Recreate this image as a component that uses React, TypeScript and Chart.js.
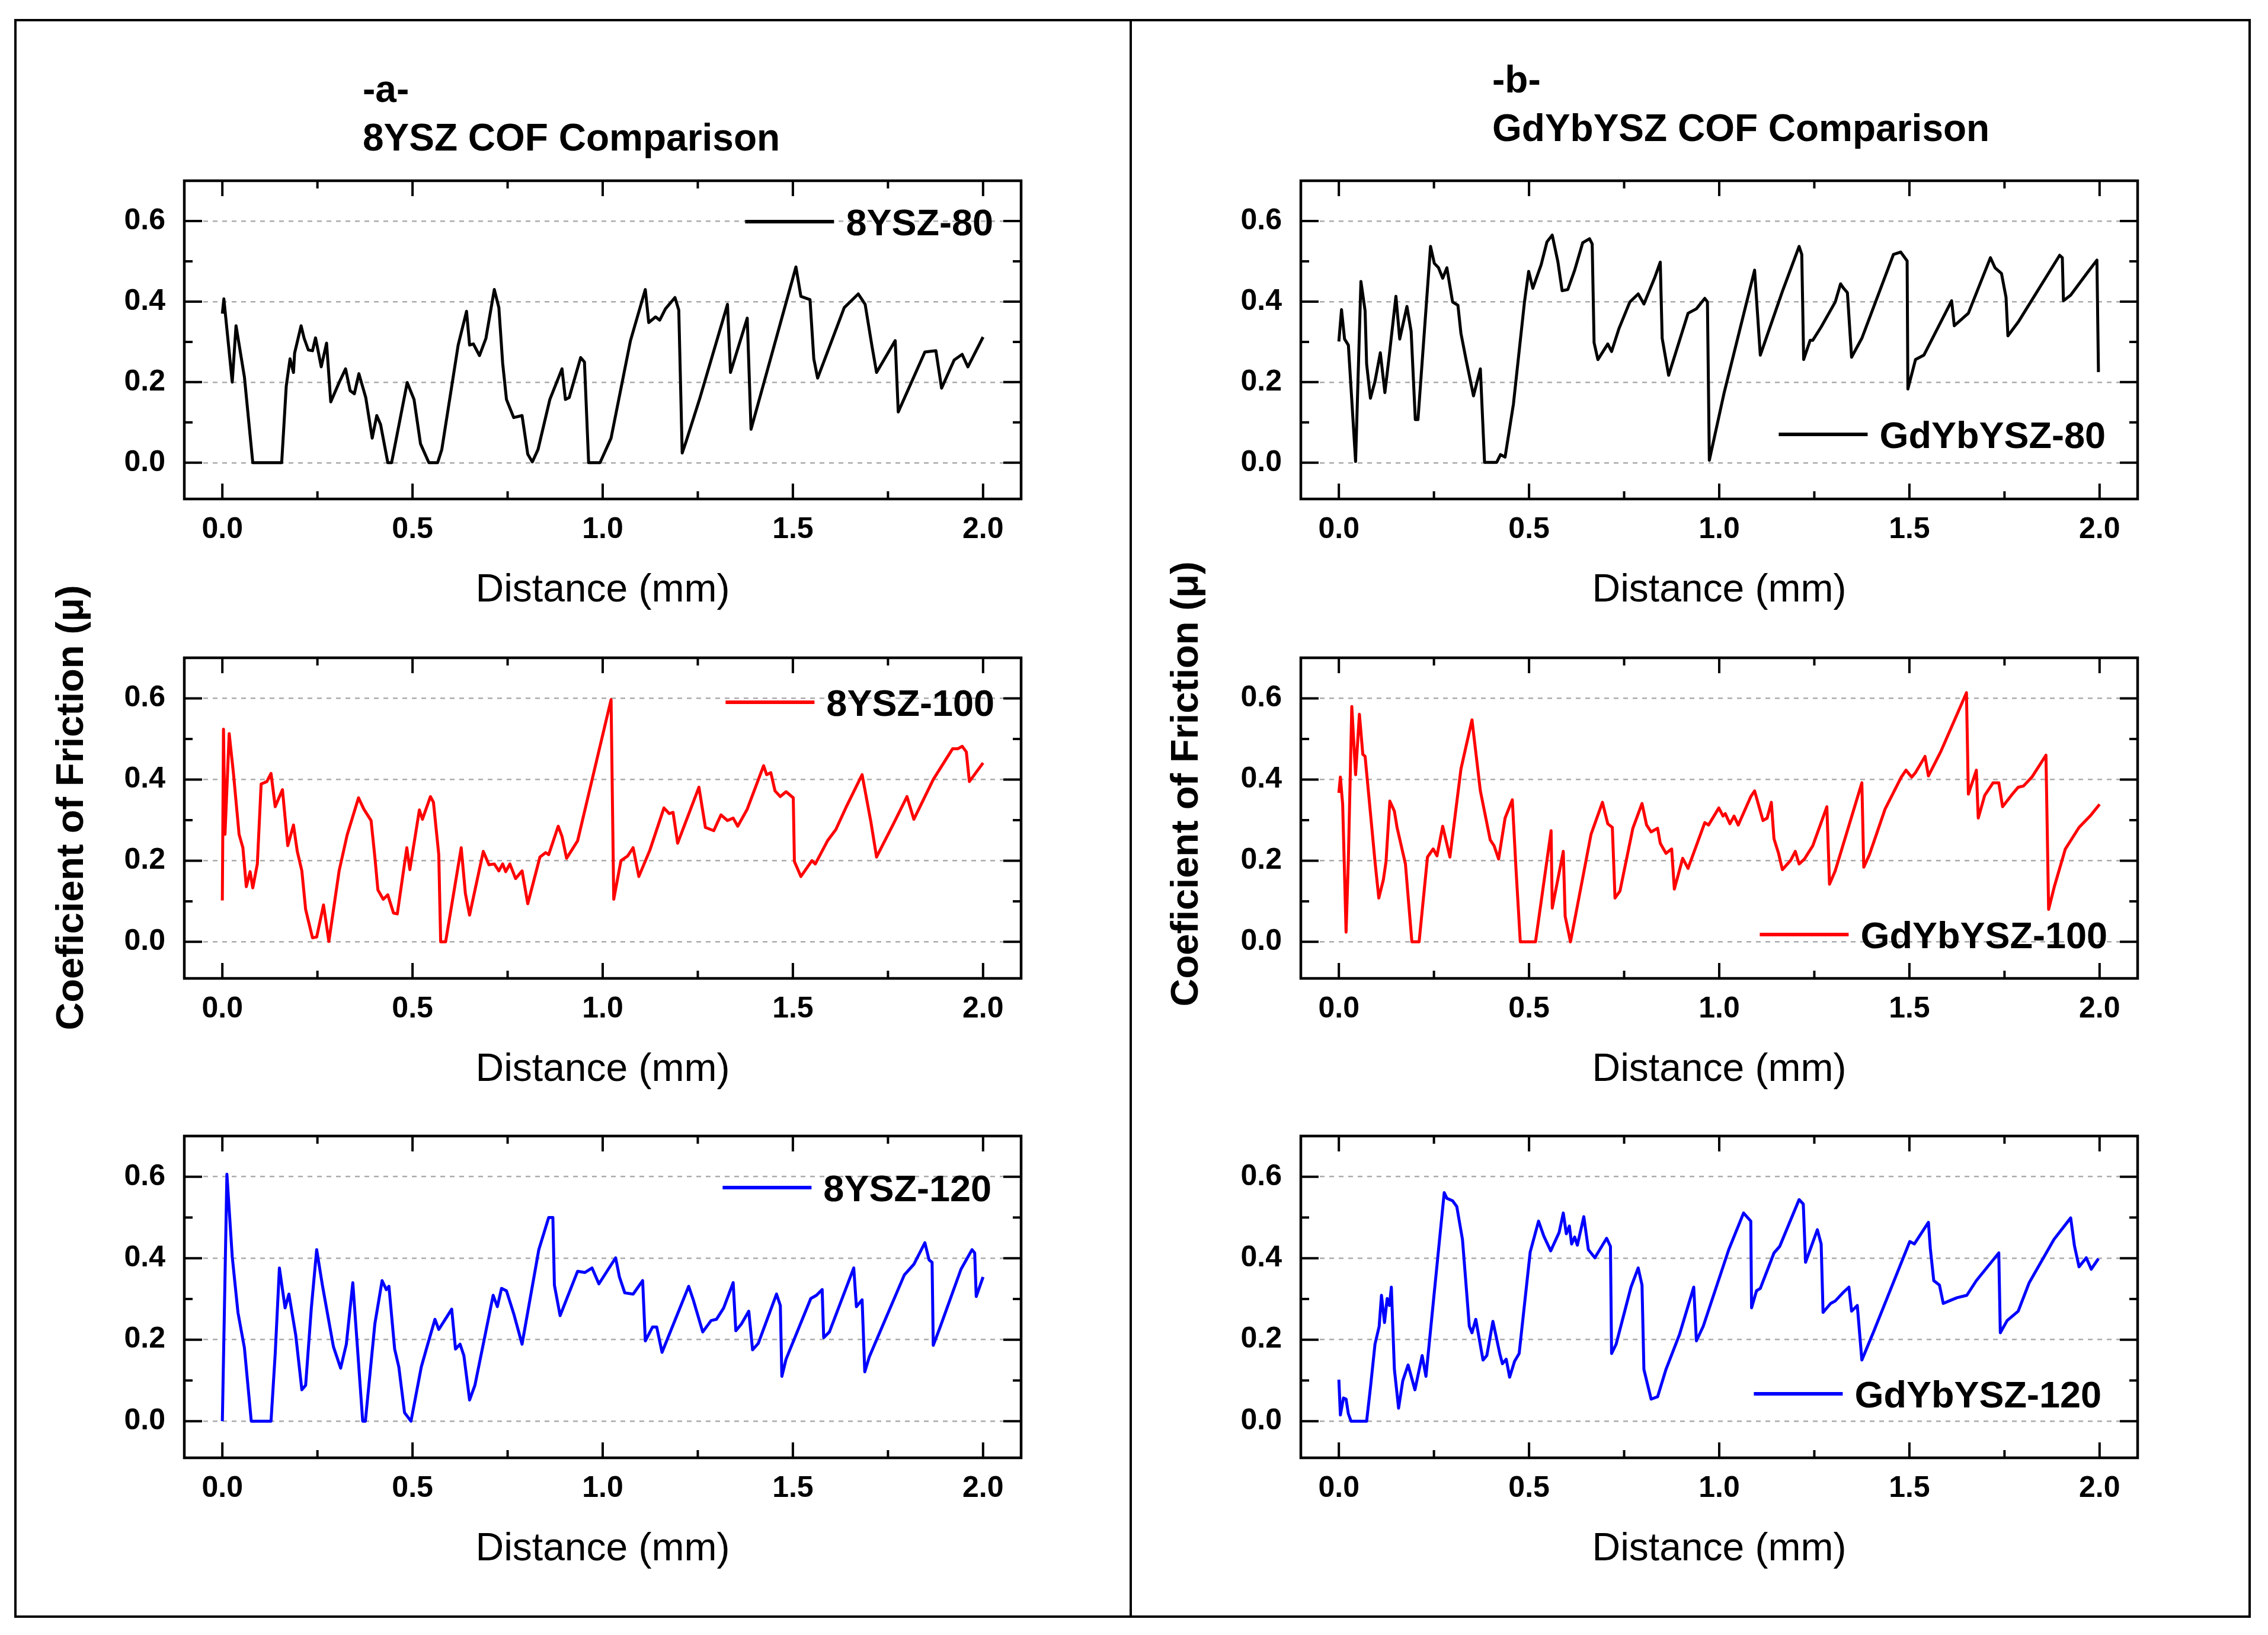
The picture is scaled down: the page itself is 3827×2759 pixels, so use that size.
import React, { useEffect, useRef } from 'react';
import { Chart, registerables } from 'chart.js';

Chart.register(...registerables);

// distance (mm), coefficient of friction
const ysz80: [number, number][] = [
  [0, 0.37], [0.004, 0.407], [0.026, 0.2], [0.036, 0.34], [0.058, 0.213], [0.08, 0], [0.156, 0], [0.168, 0.19],
  [0.178, 0.258], [0.187, 0.224], [0.19, 0.272], [0.207, 0.34], [0.215, 0.309], [0.226, 0.28], [0.237, 0.278],
  [0.245, 0.31], [0.26, 0.238], [0.274, 0.297], [0.285, 0.151], [0.307, 0.199], [0.324, 0.233], [0.336, 0.179],
  [0.347, 0.171], [0.359, 0.221], [0.377, 0.162], [0.394, 0.061], [0.406, 0.117], [0.416, 0.095], [0.435, 0],
  [0.445, 0], [0.486, 0.199], [0.504, 0.157], [0.521, 0.047], [0.543, 0], [0.566, 0], [0.577, 0.033], [0.62, 0.292],
  [0.642, 0.376], [0.65, 0.292], [0.66, 0.295], [0.676, 0.266], [0.693, 0.309], [0.715, 0.43], [0.727, 0.385],
  [0.737, 0.247], [0.747, 0.157], [0.766, 0.112], [0.788, 0.117], [0.803, 0.021], [0.815, 0.002], [0.83, 0.033],
  [0.861, 0.157], [0.893, 0.233], [0.902, 0.157], [0.912, 0.162], [0.942, 0.261], [0.952, 0.25], [0.963, 0],
  [0.993, 0], [1.022, 0.061], [1.073, 0.303], [1.112, 0.43], [1.121, 0.348], [1.139, 0.362], [1.15, 0.354],
  [1.165, 0.382], [1.19, 0.41], [1.2, 0.379], [1.209, 0.024], [1.219, 0.052], [1.255, 0.159], [1.328, 0.393],
  [1.336, 0.224], [1.38, 0.359], [1.39, 0.083], [1.508, 0.486], [1.521, 0.413], [1.545, 0.405], [1.555, 0.258],
  [1.565, 0.21], [1.635, 0.385], [1.672, 0.419], [1.69, 0.393], [1.708, 0.289], [1.72, 0.224], [1.769, 0.303],
  [1.777, 0.126], [1.847, 0.275], [1.876, 0.278], [1.891, 0.185], [1.924, 0.255], [1.945, 0.269], [1.96, 0.238],
  [2.0, 0.312],
];

const ysz100: [number, number][] = [
  [0, 0.102], [0.003, 0.524], [0.007, 0.265], [0.018, 0.513], [0.029, 0.417], [0.044, 0.265], [0.054, 0.232],
  [0.063, 0.136], [0.073, 0.173], [0.08, 0.133], [0.092, 0.192], [0.102, 0.389], [0.117, 0.395], [0.128, 0.415],
  [0.139, 0.333], [0.158, 0.375], [0.172, 0.237], [0.187, 0.288], [0.197, 0.223], [0.209, 0.175], [0.219, 0.08],
  [0.237, 0.01], [0.248, 0.012], [0.266, 0.091], [0.28, 0.001], [0.307, 0.175], [0.328, 0.263], [0.358, 0.355],
  [0.372, 0.327], [0.391, 0.299], [0.401, 0.209], [0.409, 0.128], [0.423, 0.105], [0.435, 0.116], [0.45, 0.071],
  [0.46, 0.069], [0.485, 0.232], [0.493, 0.178], [0.518, 0.325], [0.526, 0.302], [0.547, 0.358], [0.555, 0.344],
  [0.569, 0.215], [0.574, 0], [0.587, 0], [0.628, 0.232], [0.639, 0.119], [0.65, 0.066], [0.686, 0.223],
  [0.701, 0.19], [0.715, 0.192], [0.727, 0.175], [0.737, 0.192], [0.745, 0.173], [0.756, 0.192], [0.771, 0.156],
  [0.788, 0.175], [0.803, 0.094], [0.835, 0.209], [0.85, 0.22], [0.858, 0.215], [0.883, 0.285], [0.893, 0.26],
  [0.905, 0.206], [0.934, 0.249], [1.022, 0.597], [1.029, 0.105], [1.048, 0.2], [1.066, 0.212], [1.08, 0.232],
  [1.095, 0.161], [1.124, 0.226], [1.161, 0.33], [1.175, 0.316], [1.185, 0.319], [1.197, 0.243], [1.253, 0.381],
  [1.27, 0.282], [1.292, 0.274], [1.311, 0.313], [1.328, 0.299], [1.343, 0.305], [1.355, 0.285], [1.38, 0.327],
  [1.423, 0.434], [1.431, 0.412], [1.442, 0.417], [1.453, 0.372], [1.467, 0.358], [1.482, 0.37], [1.501, 0.355],
  [1.504, 0.198], [1.521, 0.161], [1.55, 0.2], [1.559, 0.192], [1.591, 0.249], [1.613, 0.277], [1.642, 0.336],
  [1.682, 0.412], [1.705, 0.296], [1.72, 0.209], [1.766, 0.294], [1.8, 0.358], [1.818, 0.302], [1.869, 0.4],
  [1.92, 0.476], [1.934, 0.476], [1.945, 0.482], [1.956, 0.468], [1.964, 0.395], [2.0, 0.441],
];

const ysz120: [number, number][] = [
  [0, 0], [0.012, 0.606], [0.026, 0.404], [0.041, 0.267], [0.058, 0.18], [0.076, 0], [0.128, 0], [0.139, 0.166],
  [0.15, 0.376], [0.165, 0.278], [0.175, 0.312], [0.193, 0.211], [0.209, 0.077], [0.219, 0.088], [0.234, 0.278],
  [0.248, 0.421], [0.263, 0.334], [0.277, 0.261], [0.292, 0.183], [0.311, 0.13], [0.326, 0.189], [0.343, 0.34],
  [0.355, 0.183], [0.369, 0], [0.376, 0], [0.401, 0.239], [0.42, 0.345], [0.431, 0.323], [0.438, 0.331],
  [0.453, 0.177], [0.464, 0.133], [0.479, 0.021], [0.496, 0], [0.523, 0.133], [0.54, 0.189], [0.559, 0.25],
  [0.569, 0.225], [0.584, 0.247], [0.603, 0.275], [0.613, 0.177], [0.625, 0.189], [0.635, 0.161], [0.65, 0.052],
  [0.664, 0.088], [0.712, 0.309], [0.723, 0.281], [0.734, 0.326], [0.747, 0.32], [0.766, 0.264], [0.788, 0.189],
  [0.832, 0.421], [0.858, 0.5], [0.869, 0.5], [0.873, 0.334], [0.888, 0.259], [0.934, 0.368], [0.953, 0.365],
  [0.972, 0.376], [0.99, 0.337], [1.034, 0.401], [1.044, 0.354], [1.058, 0.315], [1.08, 0.312], [1.105, 0.345],
  [1.112, 0.197], [1.131, 0.231], [1.142, 0.231], [1.156, 0.169], [1.226, 0.331], [1.238, 0.298], [1.263, 0.219],
  [1.285, 0.247], [1.299, 0.25], [1.318, 0.278], [1.343, 0.34], [1.35, 0.222], [1.365, 0.239], [1.384, 0.27],
  [1.394, 0.175], [1.409, 0.191], [1.457, 0.312], [1.467, 0.284], [1.471, 0.11], [1.482, 0.152], [1.547, 0.301],
  [1.562, 0.309], [1.577, 0.323], [1.581, 0.205], [1.596, 0.219], [1.66, 0.376], [1.667, 0.281], [1.682, 0.298],
  [1.689, 0.121], [1.701, 0.158], [1.793, 0.359], [1.818, 0.385], [1.847, 0.438], [1.858, 0.396], [1.866, 0.39],
  [1.869, 0.186], [1.888, 0.233], [1.942, 0.373], [1.971, 0.421], [1.978, 0.413], [1.982, 0.306], [2.0, 0.354],
];

const gdyb80: [number, number][] = [
  [0, 0.301], [0.007, 0.38], [0.015, 0.307], [0.025, 0.292], [0.044, 0.003], [0.058, 0.45], [0.069, 0.377],
  [0.073, 0.245], [0.083, 0.16], [0.095, 0.202], [0.109, 0.273], [0.121, 0.174], [0.133, 0.27], [0.15, 0.413],
  [0.16, 0.307], [0.179, 0.388], [0.19, 0.326], [0.201, 0.107], [0.208, 0.107], [0.241, 0.537], [0.251, 0.495],
  [0.262, 0.484], [0.273, 0.458], [0.284, 0.484], [0.299, 0.399], [0.313, 0.391], [0.321, 0.321], [0.335, 0.253],
  [0.354, 0.166], [0.372, 0.233], [0.383, 0.001], [0.415, 0.001], [0.425, 0.02], [0.437, 0.014], [0.459, 0.146],
  [0.488, 0.399], [0.499, 0.475], [0.51, 0.433], [0.532, 0.492], [0.547, 0.548], [0.561, 0.565], [0.576, 0.498],
  [0.587, 0.427], [0.602, 0.43], [0.62, 0.478], [0.641, 0.546], [0.659, 0.556], [0.666, 0.543], [0.671, 0.298],
  [0.681, 0.256], [0.707, 0.295], [0.717, 0.276], [0.736, 0.332], [0.765, 0.399], [0.787, 0.419], [0.802, 0.394],
  [0.831, 0.461], [0.845, 0.498], [0.85, 0.309], [0.867, 0.217], [0.918, 0.371], [0.94, 0.382], [0.962, 0.408],
  [0.969, 0.399], [0.974, 0.006], [1.013, 0.174], [1.093, 0.478], [1.108, 0.267], [1.166, 0.425], [1.21, 0.537],
  [1.217, 0.517], [1.222, 0.256], [1.239, 0.304], [1.246, 0.304], [1.268, 0.337], [1.305, 0.399], [1.319, 0.444],
  [1.327, 0.433], [1.337, 0.422], [1.348, 0.262], [1.375, 0.309], [1.458, 0.517], [1.477, 0.523], [1.494, 0.501],
  [1.496, 0.183], [1.516, 0.256], [1.538, 0.267], [1.611, 0.402], [1.618, 0.34], [1.655, 0.371], [1.713, 0.509],
  [1.725, 0.484], [1.742, 0.47], [1.754, 0.411], [1.759, 0.315], [1.786, 0.349], [1.895, 0.515], [1.902, 0.509],
  [1.905, 0.402], [1.924, 0.416], [1.968, 0.472], [1.993, 0.503], [1.997, 0.225],
];

const gdyb100: [number, number][] = [
  [0, 0.367], [0.004, 0.406], [0.01, 0.339], [0.019, 0.024], [0.025, 0.204], [0.034, 0.58], [0.044, 0.412],
  [0.054, 0.561], [0.063, 0.462], [0.069, 0.457], [0.095, 0.198], [0.105, 0.108], [0.117, 0.153], [0.124, 0.198],
  [0.134, 0.347], [0.146, 0.322], [0.153, 0.282], [0.175, 0.192], [0.192, 0], [0.211, 0], [0.233, 0.209],
  [0.248, 0.229], [0.258, 0.212], [0.273, 0.285], [0.292, 0.209], [0.321, 0.426], [0.35, 0.547], [0.372, 0.372],
  [0.398, 0.251], [0.408, 0.237], [0.42, 0.204], [0.437, 0.305], [0.456, 0.35], [0.466, 0.175], [0.477, 0],
  [0.517, 0], [0.558, 0.274], [0.561, 0.083], [0.59, 0.223], [0.595, 0.063], [0.609, 0], [0.663, 0.265],
  [0.693, 0.344], [0.707, 0.291], [0.719, 0.282], [0.726, 0.108], [0.739, 0.125], [0.773, 0.28], [0.797, 0.341],
  [0.809, 0.288], [0.821, 0.271], [0.838, 0.28], [0.845, 0.243], [0.86, 0.218], [0.875, 0.229], [0.882, 0.13],
  [0.904, 0.206], [0.918, 0.181], [0.962, 0.294], [0.972, 0.288], [0.999, 0.33], [1.01, 0.31], [1.016, 0.316],
  [1.028, 0.291], [1.039, 0.31], [1.05, 0.288], [1.083, 0.358], [1.093, 0.372], [1.115, 0.299], [1.126, 0.305],
  [1.137, 0.344], [1.144, 0.254], [1.156, 0.218], [1.166, 0.178], [1.188, 0.201], [1.2, 0.223], [1.21, 0.192],
  [1.224, 0.204], [1.246, 0.237], [1.283, 0.333], [1.29, 0.142], [1.305, 0.175], [1.375, 0.392], [1.38, 0.184],
  [1.395, 0.215], [1.436, 0.327], [1.478, 0.405], [1.491, 0.423], [1.506, 0.406], [1.516, 0.417], [1.541, 0.457],
  [1.55, 0.409], [1.582, 0.468], [1.65, 0.614], [1.655, 0.364], [1.676, 0.423], [1.681, 0.305], [1.698, 0.361],
  [1.72, 0.392], [1.735, 0.392], [1.745, 0.333], [1.768, 0.361], [1.786, 0.381], [1.8, 0.384], [1.822, 0.406],
  [1.859, 0.46], [1.866, 0.08], [1.881, 0.136], [1.91, 0.229], [1.946, 0.282], [1.975, 0.31], [2.0, 0.339],
];

const gdyb120: [number, number][] = [
  [0, 0.102], [0.004, 0.015], [0.012, 0.057], [0.019, 0.054], [0.025, 0.018], [0.032, 0], [0.073, 0],
  [0.083, 0.082], [0.095, 0.189], [0.106, 0.233], [0.112, 0.309], [0.12, 0.242], [0.127, 0.301], [0.133, 0.284],
  [0.138, 0.329], [0.146, 0.127], [0.157, 0.032], [0.168, 0.099], [0.182, 0.138], [0.2, 0.077], [0.219, 0.161],
  [0.229, 0.11], [0.248, 0.289], [0.277, 0.561], [0.284, 0.547], [0.299, 0.541], [0.31, 0.527], [0.325, 0.446],
  [0.343, 0.233], [0.35, 0.217], [0.36, 0.25], [0.379, 0.15], [0.389, 0.161], [0.405, 0.245], [0.423, 0.166],
  [0.43, 0.141], [0.44, 0.152], [0.449, 0.108], [0.462, 0.147], [0.474, 0.166], [0.503, 0.415], [0.525, 0.491],
  [0.539, 0.454], [0.557, 0.418], [0.579, 0.463], [0.59, 0.511], [0.598, 0.46], [0.606, 0.479], [0.612, 0.435],
  [0.62, 0.452], [0.627, 0.432], [0.644, 0.502], [0.656, 0.421], [0.673, 0.401], [0.704, 0.449], [0.714, 0.429],
  [0.717, 0.166], [0.729, 0.189], [0.768, 0.329], [0.787, 0.376], [0.797, 0.334], [0.802, 0.127], [0.821, 0.054],
  [0.838, 0.06], [0.86, 0.127], [0.896, 0.214], [0.933, 0.329], [0.94, 0.197], [0.958, 0.233], [1.025, 0.421],
  [1.064, 0.511], [1.083, 0.491], [1.085, 0.278], [1.098, 0.32], [1.108, 0.326], [1.144, 0.413], [1.159, 0.429],
  [1.21, 0.544], [1.221, 0.533], [1.227, 0.39], [1.258, 0.47], [1.268, 0.435], [1.273, 0.267], [1.293, 0.289],
  [1.305, 0.295], [1.327, 0.317], [1.341, 0.329], [1.348, 0.27], [1.363, 0.284], [1.375, 0.15], [1.407, 0.222],
  [1.443, 0.306], [1.501, 0.441], [1.513, 0.435], [1.55, 0.488], [1.555, 0.424], [1.564, 0.345], [1.579, 0.334],
  [1.589, 0.289], [1.604, 0.295], [1.625, 0.303], [1.651, 0.309], [1.676, 0.345], [1.735, 0.413], [1.739, 0.217],
  [1.757, 0.247], [1.786, 0.27], [1.815, 0.34], [1.88, 0.446], [1.924, 0.499], [1.934, 0.43], [1.946, 0.379],
  [1.965, 0.401], [1.978, 0.373], [1.997, 0.399],
];

const xMajorTicks = [0, 0.5, 1.0, 1.5, 2.0];
const xMinorTicks = [0.25, 0.75, 1.25, 1.75];
const yMajorTicks = [0, 0.2, 0.4, 0.6];
const yMinorTicks = [0.1, 0.3, 0.5];

const FONT = '"Liberation Sans", Arial, Helvetica, sans-serif';
const Y_AXIS_W = 150;
const X_AXIS_H = 194;
const PAD_TOP = 20;
const PAD_RIGHT = 30;
const PLOT_W = 1412;

interface PanelSpec {
  label: string;
  data: [number, number][];
  color: string;
  left: number;
  top: number;
  height: number;
  legendTop?: number;
  legendBottom?: number;
  legendRight: number;
}

const panels: PanelSpec[] = [
  { label: '8YSZ-80', data: ysz80, color: '#000000', left: 311, top: 305, height: 537, legendTop: 69, legendRight: 47 },
  { label: '8YSZ-100', data: ysz100, color: '#ff0000', left: 311, top: 1110, height: 541, legendTop: 75, legendRight: 45 },
  { label: '8YSZ-120', data: ysz120, color: '#0000ff', left: 311, top: 1917, height: 543, legendTop: 87, legendRight: 50 },
  { label: 'GdYbYSZ-80', data: gdyb80, color: '#000000', left: 2195, top: 305, height: 537, legendBottom: 109, legendRight: 54 },
  { label: 'GdYbYSZ-100', data: gdyb100, color: '#ff0000', left: 2195, top: 1110, height: 541, legendBottom: 74, legendRight: 51 },
  { label: 'GdYbYSZ-120', data: gdyb120, color: '#0000ff', left: 2195, top: 1917, height: 543, legendBottom: 108, legendRight: 61 },
];

const Panel: React.FC<{ spec: PanelSpec }> = ({ spec }) => {
  const canvasRef = useRef<HTMLCanvasElement | null>(null);

  useEffect(() => {
    if (!canvasRef.current) return;

    // frame, inward ticks and the legend inside the plot
    const decor = {
      id: 'decor',
      afterDraw(chart: any) {
        const { ctx, chartArea, scales } = chart;
        const { left, right, top, bottom } = chartArea;
        const x = scales.x;
        const y = scales.y;
        ctx.save();
        ctx.strokeStyle = '#000';
        ctx.lineWidth = 4;
        ctx.lineCap = 'butt';
        ctx.beginPath();
        xMajorTicks.forEach((v) => {
          const px = x.getPixelForValue(v);
          ctx.moveTo(px, bottom); ctx.lineTo(px, bottom - 26);
          ctx.moveTo(px, top); ctx.lineTo(px, top + 26);
        });
        xMinorTicks.forEach((v) => {
          const px = x.getPixelForValue(v);
          ctx.moveTo(px, bottom); ctx.lineTo(px, bottom - 13);
          ctx.moveTo(px, top); ctx.lineTo(px, top + 13);
        });
        yMajorTicks.forEach((v) => {
          const py = y.getPixelForValue(v);
          ctx.moveTo(left, py); ctx.lineTo(left + 30, py);
          ctx.moveTo(right, py); ctx.lineTo(right - 30, py);
        });
        yMinorTicks.forEach((v) => {
          const py = y.getPixelForValue(v);
          ctx.moveTo(left, py); ctx.lineTo(left + 14, py);
          ctx.moveTo(right, py); ctx.lineTo(right - 14, py);
        });
        ctx.stroke();
        ctx.lineWidth = 4.5;
        ctx.strokeRect(left, top, right - left, bottom - top);

        // legend
        const fs = 63;
        ctx.font = `bold ${fs}px ${FONT}`;
        const textW = ctx.measureText(spec.label).width;
        const textRight = right - spec.legendRight;
        const textLeft = textRight - textW;
        const ly = spec.legendTop !== undefined ? top + spec.legendTop : bottom - (spec.legendBottom || 0);
        ctx.strokeStyle = spec.color;
        ctx.lineWidth = 6;
        ctx.beginPath();
        ctx.moveTo(textLeft - 170, ly);
        ctx.lineTo(textLeft - 20, ly);
        ctx.stroke();
        ctx.fillStyle = '#000';
        ctx.textAlign = 'left';
        ctx.textBaseline = 'alphabetic';
        ctx.fillText(spec.label, textLeft, ly + fs * 0.358);
        ctx.restore();
      },
    };

    const chart = new Chart(canvasRef.current, {
      type: 'line',
      data: {
        datasets: [
          {
            label: spec.label,
            data: spec.data.map(([d, c]) => ({ x: d, y: c })),
            borderColor: spec.color,
            borderWidth: 5,
            pointRadius: 0,
            tension: 0,
            fill: false,
            borderJoinStyle: 'round',
          },
        ],
      },
      options: {
        animation: false,
        responsive: false,
        maintainAspectRatio: false,
        layout: { padding: { top: PAD_TOP, right: PAD_RIGHT, left: 0, bottom: 0 } },
        plugins: { legend: { display: false }, tooltip: { enabled: false } },
        scales: {
          x: {
            type: 'linear',
            min: -0.1,
            max: 2.1,
            afterBuildTicks: (s: any) => { s.ticks = xMajorTicks.map((v) => ({ value: v })); },
            afterFit: (s: any) => {
              s.height = X_AXIS_H;
              s.paddingLeft = 0;
              s.paddingRight = 0;
            },
            grid: { display: false, drawTicks: false },
            border: { display: false },
            ticks: {
              color: '#000',
              font: { family: FONT, size: 50, weight: 'bold' },
              padding: 22,
              maxRotation: 0,
              autoSkip: false,
              callback: (v: any) => Number(v).toFixed(1),
            },
            title: {
              display: true,
              text: 'Distance (mm)',
              color: '#000',
              font: { family: FONT, size: 66, weight: 'normal' },
              padding: 0,
            },
          },
          y: {
            min: -0.09,
            max: 0.7,
            afterBuildTicks: (s: any) => { s.ticks = yMajorTicks.map((v) => ({ value: v })); },
            afterFit: (s: any) => {
              s.width = Y_AXIS_W;
              s.paddingTop = 0;
              s.paddingBottom = 0;
            },
            grid: { color: '#ababab', lineWidth: 2.5, drawTicks: false },
            border: { display: false, dash: [8, 8] },
            ticks: {
              color: '#000',
              font: { family: FONT, size: 50, weight: 'bold' },
              padding: 32,
              callback: (v: any) => Number(v).toFixed(1),
            },
          },
        },
      } as any,
      plugins: [decor],
    });

    return () => {
      chart.destroy();
    };
  }, [spec]);

  const w = Y_AXIS_W + PLOT_W + PAD_RIGHT;
  const h = PAD_TOP + spec.height + X_AXIS_H;
  return (
    <canvas
      ref={canvasRef}
      width={w}
      height={h}
      style={{ position: 'absolute', left: spec.left - Y_AXIS_W, top: spec.top - PAD_TOP, width: w, height: h }}
    />
  );
};

const textBase: React.CSSProperties = {
  position: 'absolute',
  fontFamily: FONT,
  fontWeight: 'bold',
  color: '#000',
  whiteSpace: 'nowrap',
};

const App: React.FC = () => {
  return (
    <div style={{ position: 'absolute', left: 0, top: 0, width: 3827, height: 2759, background: '#fff', overflow: 'hidden' }}>
      <div style={{ position: 'absolute', left: 24, top: 32, width: 3774, height: 2698, border: '4px solid #000', boxSizing: 'border-box' }} />
      <div style={{ position: 'absolute', left: 1906, top: 32, width: 4, height: 2698, background: '#000' }} />

      <div style={{ ...textBase, left: 612, top: 118, fontSize: 64, lineHeight: '64px' }}>-a-</div>
      <div style={{ ...textBase, left: 612, top: 200, fontSize: 64, lineHeight: '64px' }}>8YSZ COF Comparison</div>
      <div style={{ ...textBase, left: 2518, top: 102, fontSize: 64, lineHeight: '64px' }}>-b-</div>
      <div style={{ ...textBase, left: 2518, top: 184, fontSize: 64, lineHeight: '64px' }}>GdYbYSZ COF Comparison</div>

      <div style={{ ...textBase, left: 117, top: 1363, fontSize: 65, lineHeight: '65px', transform: 'translate(-50%, -50%) rotate(-90deg)' }}>
        Coeficient of Friction (μ)
      </div>
      <div style={{ ...textBase, left: 1998, top: 1323, fontSize: 65, lineHeight: '65px', transform: 'translate(-50%, -50%) rotate(-90deg)' }}>
        Coeficient of Friction (μ)
      </div>

      {panels.map((p) => (
        <Panel key={p.label} spec={p} />
      ))}
    </div>
  );
};

export default App;
